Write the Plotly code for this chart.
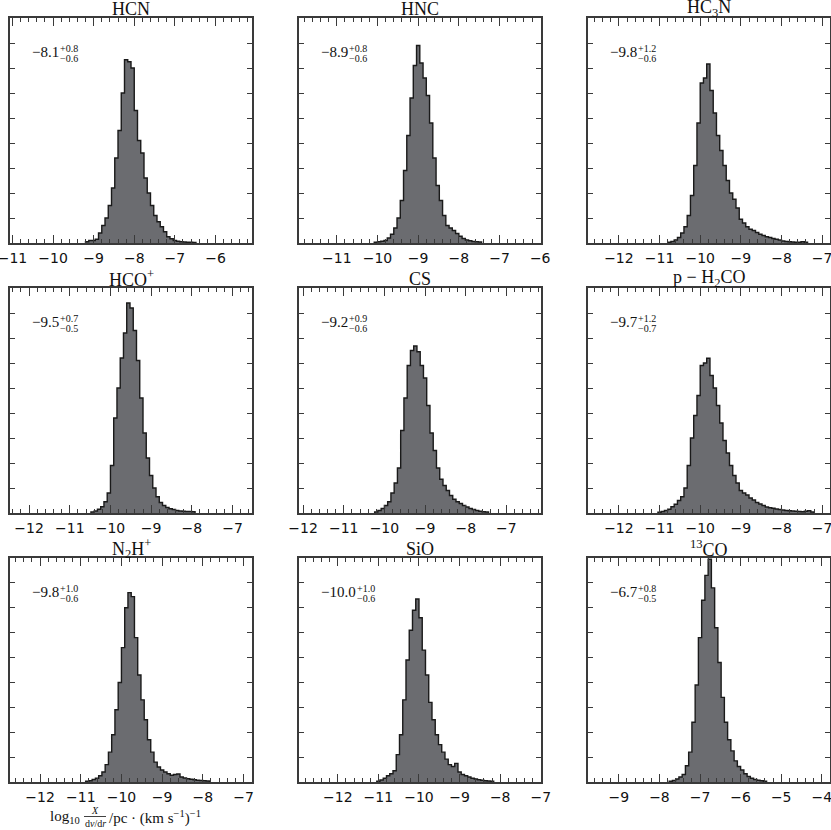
import plotly.graph_objects as go

# ---------------- data ----------------
BIN_WIDTH = 0.08

titles = ["HCN", "HNC", "HC<sub>3</sub>N",
          "HCO<sup>+</sup>", "CS", "p − H<sub>2</sub>CO",
          "N<sub>2</sub>H<sup>+</sup>", "SiO", "<sup>13</sup>CO"]

medians = [-8.1, -8.9, -9.8, -9.5, -9.2, -9.7, -9.8, -10.0, -6.7]
err_up = [0.8, 0.8, 1.2, 0.7, 0.9, 1.2, 1.0, 1.0, 0.8]
err_lo = [0.6, 0.6, 0.6, 0.5, 0.6, 0.7, 0.6, 0.6, 0.5]

x_ranges = [[-11.06, -5.10], [-11.93, -5.98], [-12.76, -6.82],
            [-12.47, -6.52], [-12.10, -6.15], [-12.76, -6.82],
            [-12.74, -6.79], [-12.955, -6.995], [-9.76, -3.81]]

# left edge of first bin for each histogram
bin_start = [-9.20, -10.08, -10.80, -10.48, -10.24, -11.04, -10.88, -11.04, -7.76]

hcn = [0.05, 0.1, 0.1, 0.15, 0.4, 0.7, 1.0, 1.5, 2.2, 3.4, 4.5, 6.0, 7.33, 7.25, 7.0,
       5.3, 4.1, 3.6, 2.6, 2.0, 1.5, 1.1, 0.85, 0.65, 0.45, 0.25, 0.17, 0.1, 0.07,
       0.05, 0.04, 0.03, 0.03, 0.02]
hnc = [0.03, 0.05, 0.07, 0.1, 0.2, 0.35, 0.6, 1.0, 1.7, 2.9, 4.3, 5.8, 7.1, 7.9, 7.2,
       6.6, 5.9, 4.8, 3.4, 2.3, 1.7, 1.1, 0.7, 0.6, 0.5, 0.38, 0.27, 0.18, 0.12, 0.09,
       0.06, 0.05, 0.04]
hc3n = [0.03, 0.06, 0.12, 0.22, 0.4, 0.65, 1.1, 1.9, 3.1, 4.8, 6.4, 6.6, 7.16, 6.1,
        5.2, 4.3, 3.7, 3.1, 2.5, 2.0, 1.75, 1.4, 0.95, 0.8, 0.65, 0.55, 0.5, 0.42,
        0.35, 0.3, 0.25, 0.22, 0.18, 0.15, 0.12, 0.08, 0.06, 0.05, 0.04, 0.03, 0.03,
        0.05, 0.03]
hcop = [0.04, 0.08, 0.15, 0.25, 0.45, 0.8, 1.9, 3.8, 5.0, 6.2, 7.2, 8.4, 8.2, 7.3,
        6.1, 4.6, 3.2, 2.2, 1.5, 1.0, 0.65, 0.42, 0.3, 0.22, 0.17, 0.14, 0.1, 0.08,
        0.07, 0.06, 0.06, 0.05]
cs = [0.04, 0.1, 0.18, 0.3, 0.45, 0.8, 1.2, 1.8, 3.3, 4.6, 5.9, 6.5, 6.68, 6.45, 5.9,
      5.4, 4.3, 3.2, 2.5, 1.8, 1.35, 1.1, 0.9, 0.7, 0.55, 0.45, 0.38, 0.3, 0.24, 0.18,
      0.14, 0.1, 0.07, 0.05, 0.04]
ph2co = [0.03, 0.06, 0.1, 0.15, 0.25, 0.35, 0.5, 0.65, 1.0, 1.9, 3.0, 3.9, 4.7, 5.9,
         6.0, 6.19, 5.5, 5.0, 4.3, 3.6, 2.9, 2.4, 1.9, 1.5, 1.2, 0.9, 0.8, 0.72, 0.6,
         0.52, 0.42, 0.36, 0.3, 0.24, 0.21, 0.19, 0.16, 0.14, 0.12, 0.1, 0.09, 0.08,
         0.07, 0.06, 0.05, 0.07, 0.09, 0.04]
n2hp = [0.03, 0.05, 0.1, 0.15, 0.25, 0.4, 0.7, 1.2, 1.9, 2.9, 4.0, 5.4, 7.0, 7.61,
        7.45, 5.8, 4.3, 3.3, 2.5, 1.7, 1.2, 0.8, 0.6, 0.48, 0.4, 0.33, 0.27, 0.3, 0.32,
        0.2, 0.16, 0.13, 0.11, 0.09, 0.07, 0.06, 0.05, 0.04]
sio = [0.03, 0.08, 0.15, 0.25, 0.33, 0.45, 1.1, 1.9, 3.3, 4.9, 6.1, 6.9, 7.35, 6.6,
       5.3, 4.3, 3.2, 2.5, 1.9, 1.5, 1.2, 0.92, 0.7, 0.62, 0.75, 0.4, 0.3, 0.25, 0.2,
       0.15, 0.12, 0.09, 0.07, 0.05, 0.04, 0.03]
co13 = [0.03, 0.06, 0.12, 0.2, 0.3, 0.65, 1.2, 2.4, 3.9, 5.8, 7.3, 8.3, 8.95, 7.8,
        6.2, 4.8, 3.4, 2.4, 1.7, 1.25, 0.85, 0.62, 0.48, 0.33, 0.22, 0.15, 0.1, 0.07,
        0.05, 0.03]

histograms = [hcn, hnc, hc3n, hcop, cs, ph2co, n2hp, sio, co13]

# ---------------- layout geometry (pixels) ----------------
W, H = 831, 830
col_px = [(10, 252), (299, 541), (588, 829.5)]
row_px = [(18, 243), (288, 513), (558, 782)]

FILL = "#6b6c70"
EDGE = "#1a1a1a"
AXC = "#3a3a3a"
TXT = "#111111"

fig = go.Figure()
annotations = []
shapes = []


def fmt(v):
    s = f"{v:.1f}"
    return s.replace("-", "−")


def main_width(s, size):
    w = {"−": 0.564, ".": 0.25, "+": 0.564}
    return sum(w.get(c, 0.5) for c in s) * size


for i in range(9):
    r, c = divmod(i, 3)
    n = i + 1
    xs = "" if n == 1 else str(n)
    x0p, x1p = col_px[c]
    t0p, b0p = row_px[r]
    pw = x1p - x0p

    counts = histograms[i]
    edges = [bin_start[i] + k * BIN_WIDTH for k in range(len(counts) + 1)]
    xv = [edges[0]] + edges[:-1] + [edges[-1]]
    yv = [0] + list(counts) + [0]
    fig.add_trace(go.Scatter(
        x=xv, y=yv, mode="lines", line=dict(shape="hv", color=EDGE, width=1.4),
        fill="tozeroy", fillcolor=FILL, xaxis="x" + xs, yaxis="y" + xs,
        showlegend=False, hoverinfo="skip"))

    fig.layout["xaxis" + xs] = dict(
        domain=[x0p / W, x1p / W], range=x_ranges[i], anchor="y" + xs,
        automargin=False, ticklabeloverflow="allow",
        tickmode="linear", tick0=0, dtick=1, ticks="inside", ticklen=8,
        tickwidth=1, tickcolor=AXC, mirror="allticks", showline=True,
        linecolor=AXC, linewidth=1.5, showgrid=False, zeroline=False,
        minor=dict(dtick=0.2, tick0=0, ticks="inside", ticklen=4, tickwidth=1,
                   tickcolor=AXC, showgrid=False),
        tickfont=dict(family="DejaVu Sans", size=14, color=TXT),
        ticklabelstandoff=1, fixedrange=True)
    fig.layout["yaxis" + xs] = dict(
        domain=[1 - b0p / H, 1 - t0p / H], range=[0, 9], anchor="x" + xs,
        automargin=False,
        tickmode="linear", tick0=0, dtick=1, ticks="inside", ticklen=5,
        tickwidth=1, tickcolor=AXC, mirror="allticks", showline=True,
        linecolor=AXC, linewidth=1.5, showgrid=False, zeroline=False,
        showticklabels=False, fixedrange=True)

    # panel title
    annotations.append(dict(
        text=titles[i], xref="paper", yref="paper",
        x=(x0p + pw / 2) / W, y=1 - (t0p - 9.5) / H, xanchor="center",
        yanchor="middle", showarrow=False, borderpad=0,
        font=dict(family="Liberation Serif", size=18, color=TXT)))

    # median annotation
    mtxt = fmt(medians[i])
    msize = 15
    mx = x0p + 21
    annotations.append(dict(
        text=mtxt, xref="paper", yref="paper", x=mx / W, y=1 - (t0p + 34) / H,
        xanchor="left", yanchor="middle", showarrow=False, borderpad=0,
        font=dict(family="Liberation Serif", size=msize, color=TXT)))
    sx = mx + main_width(mtxt, msize) + 1
    annotations.append(dict(
        text="+" + f"{err_up[i]:.1f}", xref="paper", yref="paper",
        x=sx / W, y=1 - (t0p + 30) / H, xanchor="left", yanchor="middle",
        showarrow=False, borderpad=0,
        font=dict(family="Liberation Serif", size=10, color=TXT)))
    annotations.append(dict(
        text="−" + f"{err_lo[i]:.1f}", xref="paper", yref="paper",
        x=sx / W, y=1 - (t0p + 40) / H, xanchor="left", yanchor="middle",
        showarrow=False, borderpad=0,
        font=dict(family="Liberation Serif", size=10, color=TXT)))

# x-axis label below bottom-left panel (stacked fraction)
lab_font = dict(family="Liberation Serif", size=15, color=TXT)
small_font = dict(family="Liberation Serif", size=10, color=TXT)
annotations.append(dict(text="log<sub>10</sub>", xref="paper", yref="paper",
                        x=81 / W, y=1 - 817 / H, xanchor="right", yanchor="middle",
                        showarrow=False, borderpad=0, font=lab_font))
annotations.append(dict(text="<i>X</i>", xref="paper", yref="paper",
                        x=95 / W, y=1 - 810 / H, xanchor="center", yanchor="middle",
                        showarrow=False, borderpad=0, font=small_font))
annotations.append(dict(text="d<i>v</i>/d<i>r</i>", xref="paper", yref="paper",
                        x=95 / W, y=1 - 823 / H, xanchor="center", yanchor="middle",
                        showarrow=False, borderpad=0, font=small_font))
shapes.append(dict(type="line", xref="paper", yref="paper",
                   x0=84 / W, x1=106 / W, y0=1 - 816.5 / H, y1=1 - 816.5 / H,
                   line=dict(color=TXT, width=0.8)))
annotations.append(dict(text="/pc · (km s<sup>−1</sup>)<sup>−1</sup>",
                        xref="paper", yref="paper",
                        x=108 / W, y=1 - 817 / H, xanchor="left", yanchor="middle",
                        showarrow=False, borderpad=0, font=lab_font))

fig.update_layout(
    width=W, height=H, margin=dict(l=0, r=0, t=0, b=0, autoexpand=False),
    paper_bgcolor="white", plot_bgcolor="white", showlegend=False,
    annotations=annotations, shapes=shapes)

fig.write_html(
    "out.html",
    config={"displayModeBar": False},
    post_script="document.body.style.margin='0';document.body.style.padding='0';"
                "document.body.style.overflow='hidden';")
